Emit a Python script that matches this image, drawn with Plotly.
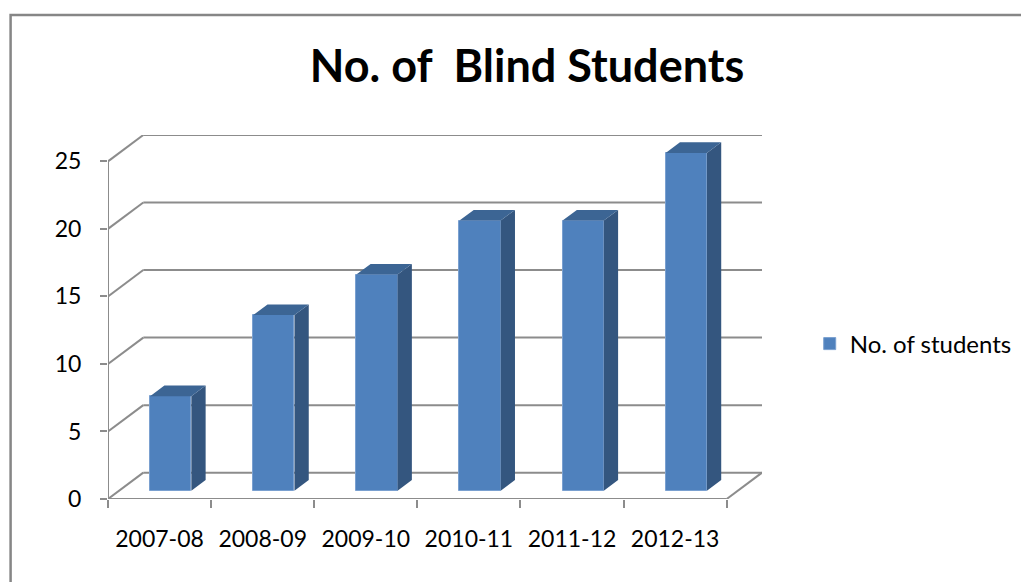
import plotly.graph_objects as go

# ---- data ----
categories = ["2007-08", "2008-09", "2009-10", "2010-11", "2011-12", "2012-13"]
students = [7, 13, 16, 20, 20, 25]
y_ticks = [0, 5, 10, 15, 20, 25]
series_name = "No. of students"
title_text = "No. of&nbsp; Blind Students"

# ---- layout geometry (pixels, page coords; page body has 8px margin) ----
OFF = 8
W, H = 1029 - OFF, 582 - OFF
PL, PR, PT, PB = 108, 766, 135, 499       # plot area in page pixels
ML, MT = PL - OFF, PT - OFF
MR, MB = W - (PR - OFF), H - (PB - OFF)
PW, PH = PR - PL, PB - PT

n = len(categories)
ymax_front = 25
# 3D depth offsets in data units
DX = 0.3423          # category units
DY = 1.95            # value units
XMIN, XMAX = -0.5, n - 0.5 + DX
YMIN, YMAX = 0, ymax_front + DY

# bar placement in depth
BF = 0.316           # front face depth fraction
BD = 0.405           # bar depth fraction
BW = 0.4             # bar width
bx = BF * DX
by = BF * DY
ddx = BD * DX
ddy = BD * DY

FRONT = "#4f81bd"
SIDE = "#34567f"
TOP = "#3c6594"
GRID = "#8c8c8c"

fig = go.Figure()

xs = [i + bx for i in range(n)]
fig.add_trace(go.Bar(
    x=xs, y=students, base=[by] * n, width=BW,
    marker=dict(color=FRONT, line=dict(color="#7aa0d0", width=1)),
    name=series_name, showlegend=True, hoverinfo="skip",
))

# side and top faces
sx, sy = [], []
tx, ty = [], []
for xc, v in zip(xs, students):
    xl, xr = xc - BW / 2, xc + BW / 2
    b, t = by, by + v
    sx += [xr, xr + ddx, xr + ddx, xr, xr, None]
    sy += [b, b + ddy, t + ddy, t, b, None]
    tx += [xl, xr, xr + ddx, xl + ddx, xl, None]
    ty += [t, t, t + ddy, t + ddy, t, None]
fig.add_trace(go.Scatter(x=sx, y=sy, mode="lines", fill="toself", fillcolor=SIDE,
                         line=dict(width=0, color=SIDE), showlegend=False, hoverinfo="skip"))
fig.add_trace(go.Scatter(x=tx, y=ty, mode="lines", fill="toself", fillcolor=TOP,
                         line=dict(width=0, color=TOP), showlegend=False, hoverinfo="skip"))

shapes = []
def seg(x0, y0, x1, y1, w=2):
    shapes.append(dict(type="line", xref="x", yref="y", x0=x0, y0=y0, x1=x1, y1=y1,
                       line=dict(color=GRID, width=w), layer="below"))

for v in y_ticks:
    seg(-0.5, v, -0.5 + DX, v + DY)
    seg(-0.5 + DX, v + DY, n - 0.5 + DX, v + DY)
# floor edges and front axis
seg(-0.5, 0, n - 0.5, 0)
seg(n - 0.5, 0, n - 0.5 + DX, DY)
seg(-0.5, 0, -0.5, ymax_front)

def px2paper_x(px):
    return (px - PL) / PW
def px2paper_y(py):
    return (PB - py) / PH

# chart border (extends past the picture on right/bottom)
shapes.append(dict(type="rect", xref="paper", yref="paper",
                   x0=px2paper_x(10), x1=px2paper_x(1080),
                   y0=px2paper_y(640), y1=px2paper_y(15),
                   line=dict(color="#868686", width=2.5), layer="below"))

fig.update_layout(
    width=W, height=H,
    margin=dict(l=ML, r=MR, t=MT, b=MB),
    paper_bgcolor="white", plot_bgcolor="white",
    font=dict(family="Lato", size=23, color="black"),
    title=dict(text=title_text, x=(527 - OFF) / W, xanchor="center",
               y=1 - (66 - OFF) / H, yanchor="middle",
               font=dict(family="Lato", size=45, color="black", weight="bold")),
    shapes=shapes,
    showlegend=True,
    legend=dict(x=px2paper_x(814), xanchor="left", y=px2paper_y(344), yanchor="middle",
                font=dict(size=24), bgcolor="rgba(0,0,0,0)"),
    bargap=0,
)
fig.update_xaxes(range=[XMIN, XMAX], tickmode="array", tickvals=list(range(n)),
                 ticktext=categories, ticks="", showgrid=False, zeroline=False,
                 showline=False, ticklabelstandoff=24, fixedrange=True,
                 minor=dict(tickmode="array", tickvals=[i - 0.5 for i in range(n + 1)],
                            ticks="outside", ticklen=8, tickwidth=2, tickcolor=GRID,
                            showgrid=False))
fig.update_yaxes(range=[YMIN, YMAX], tickmode="array", tickvals=y_ticks,
                 ticks="outside", ticklen=7, tickwidth=2, tickcolor=GRID,
                 showgrid=False, zeroline=False, showline=False,
                 ticklabelstandoff=14, fixedrange=True)

fig.write_html("out.html")
